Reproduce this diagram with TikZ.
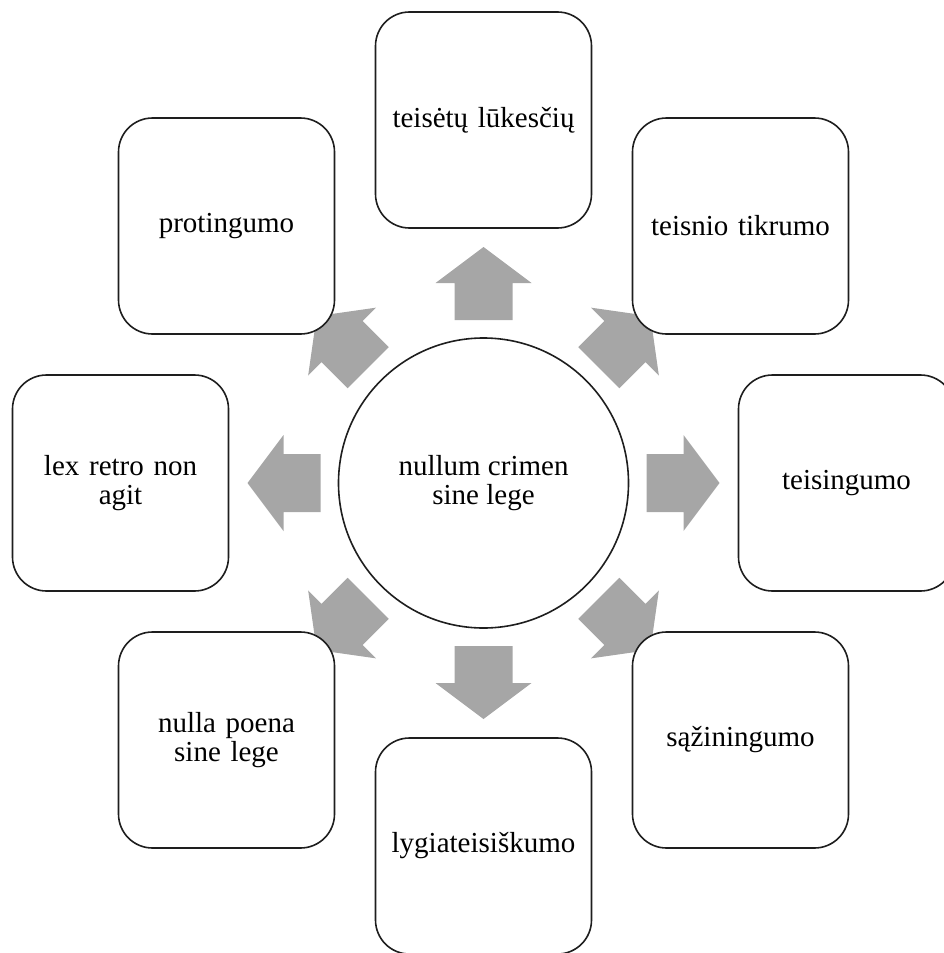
\documentclass[tikz,border=0pt]{standalone}
\usepackage{fontspec}
\setmainfont{Liberation Serif}
\definecolor{arrowgray}{RGB}{166,166,166}
\definecolor{edge}{RGB}{30,30,30}
\begin{document}
\begin{tikzpicture}[x=1pt,y=-1pt,
  box/.style={draw=edge, line width=1.6pt, fill=white, rounded corners=34pt,
    minimum width=216pt, minimum height=216pt, text width=200pt, align=center,
    inner sep=0pt, font=\fontsize{29}{28.5}\selectfont},
  hub/.style={draw=edge, line width=1.6pt, fill=white, circle, minimum size=290pt,
    inner sep=0pt, align=center, font=\fontsize{29}{28.5}\selectfont},
  blockarrow/.style={fill=arrowgray}]
\useasboundingbox (0,0) rectangle (943,953);
\node[hub] (c) at (483.5,483) {nullum crimen\\sine lege};
\foreach \a in {0,45,...,315}
  \fill[blockarrow, shift={(c.center)}, rotate=\a]
    (163,29) -- (200,29) -- (200,48) -- (236,0) -- (200,-48) -- (200,-29) -- (163,-29) -- cycle;
\node[box] (top) at (483.5,120) {teisėtų lūkesčių};
\node[box] (tr) at (740.5,226) {teisnio tikrumo};
\node[box] (r) at (846.5,483) {teisingumo};
\node[box] (br) at (740.5,740) {sąžiningumo};
\node[box] (b) at (483.5,846) {lygiateisiškumo};
\node[box] (bl) at (226.5,740) {nulla poena\\sine lege};
\node[box] (l) at (120.5,483) {lex retro non\\agit};
\node[box] (tl) at (226.5,226) {protingumo};
\end{tikzpicture}
\end{document}
